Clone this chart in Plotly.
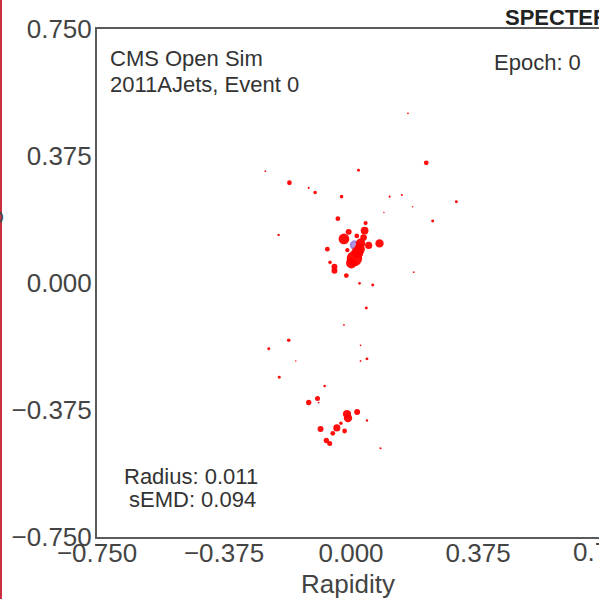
import math
import plotly.graph_objects as go

# Particle positions (rapidity, azimuth) and transverse momenta for event 0
rapidity = [0.168, 0.222, -0.253, 0.022, -0.182, -0.125, -0.106, -0.028, 0.114, 0.150,
            0.311, 0.182, 0.097, 0.241, -0.214, -0.039, 0.043, -0.007, 0.040, -0.021,
            0.017, 0.037, 0.084, 0.052, 0.028, 0.025, -0.011, -0.070, 0.010, 0.019,
            0.001, -0.062, -0.049, -0.049, -0.014, 0.025, 0.064, 0.185, 0.045, -0.021,
            -0.184, -0.243, 0.028, -0.163, 0.028, 0.047, -0.212, -0.078, -0.125, -0.099,
            -0.096, -0.012, -0.009, 0.018, 0.047, -0.030, -0.042, -0.054, -0.090, -0.019,
            -0.073, -0.063, 0.087]
azimuth = [0.501, 0.355, 0.330, 0.333, 0.296, 0.281, 0.267, 0.255, 0.255, 0.260,
           0.240, 0.225, 0.208, 0.183, 0.142, 0.190, 0.177, 0.151, 0.155, 0.130,
           0.139, 0.134, 0.117, 0.111, 0.117, 0.100, 0.097, 0.100, 0.072, 0.090,
           0.059, 0.061, 0.048, 0.036, 0.022, -0.001, -0.006, 0.032, -0.074, -0.124,
           -0.169, -0.194, -0.184, -0.230, -0.230, -0.224, -0.278, -0.304, -0.353, -0.341,
           -0.353, -0.387, -0.399, -0.381, -0.406, -0.414, -0.428, -0.444, -0.431, -0.437,
           -0.465, -0.474, -0.488]
pt = [1.1, 8.0, 1.1, 3.1, 8.0, 1.6, 4.5, 4.5, 1.6, 1.6,
      3.1, 0.8, 0.8, 3.1, 2.0, 8.0, 6.1, 12.5, 21.1, 40.5,
      8.0, 15.1, 24.5, 18.0, 32.0, 40.5, 6.1, 8.0, 84.5, 50.0,
      40.5, 4.5, 12.5, 12.5, 8.0, 2.6, 3.1, 1.1, 3.1, 1.1,
      4.5, 3.1, 1.1, 0.8, 1.1, 3.1, 3.1, 2.4, 10.1, 8.8,
      1.1, 24.5, 24.5, 12.5, 2.0, 4.5, 18.0, 8.0, 12.5, 8.0,
      10.1, 8.8, 1.6]

# SPECTER fit result
center = (0.010, 0.112)
radius = 0.011
semd = 0.094
epoch = 0

axis_ticks = [-0.75, -0.375, 0.0, 0.375]
x_range = [-0.75, 0.732]
y_range = [-0.75, 0.75]

FONT = "Liberation Sans, Arial, sans-serif"
TXT = "#333333"
TICK = "#444444"
AXIS = "#5a5a5a"

W, H = 599, 599
ML, MR, MT, MB = 97, 0, 29, 62
PW, PH = W - ML - MR, H - MT - MB


def px_x(p):
    return (p - ML) / PW


def px_y(p):
    return (H - MB - p) / PH


max_pt = max(pt)
sizes = [max(1.5, 15.5 * math.sqrt(p / max_pt)) for p in pt]

fig = go.Figure()
fig.add_trace(go.Scatter(
    x=rapidity, y=azimuth, mode="markers",
    marker=dict(size=sizes, color="#ff0000", opacity=0.95, line=dict(width=0)),
    hoverinfo="skip", showlegend=False,
))

shapes = [
    # fitted ring
    dict(type="circle", xref="x", yref="y", layer="below",
         x0=center[0] - radius, x1=center[0] + radius,
         y0=center[1] - radius, y1=center[1] + radius,
         fillcolor="rgba(150,115,215,0.75)",
         line=dict(color="rgba(150,115,215,0.75)", width=2)),
    # neighbouring panel border
    dict(type="line", xref="paper", yref="paper",
         x0=px_x(1), x1=px_x(1), y0=-0.3, y1=1.3,
         line=dict(color="#c8303f", width=2)),
]

annotations = [
    dict(text="CMS Open Sim", x=px_x(108), y=px_y(58), xanchor="left", yanchor="middle"),
    dict(text="2011AJets, Event 0", x=px_x(108), y=px_y(84), xanchor="left", yanchor="middle"),
    dict(text=f"Epoch: {epoch}", x=px_x(537), y=px_y(63), xanchor="center", yanchor="middle"),
    dict(text=f"Radius: {radius:.3f}", x=px_x(191), y=px_y(476), xanchor="center", yanchor="middle"),
    dict(text=f"sEMD: {semd:.3f}", x=px_x(192), y=px_y(499), xanchor="center", yanchor="middle"),
]
for a in annotations:
    a.update(xref="paper", yref="paper", showarrow=False, font=dict(family=FONT, size=22, color=TXT))

annotations += [
    dict(text="<b>SPECTER</b>", xref="paper", yref="paper", x=px_x(503), y=px_y(17),
         xanchor="left", yanchor="middle", showarrow=False,
         font=dict(family=FONT, size=22, color="#222222")),
    dict(text="Azimuthal Angle", xref="paper", yref="paper", x=px_x(6), y=0.5,
         xanchor="right", yanchor="middle", textangle=-90, showarrow=False,
         font=dict(family=FONT, size=26, color=TICK)),
    dict(text="0.750", xref="paper", yref="paper", x=(0.75 - x_range[0]) / (x_range[1] - x_range[0]),
         y=px_y(552), xanchor="center", yanchor="middle", showarrow=False,
         font=dict(family=FONT, size=26, color=TICK)),
]

fig.update_layout(
    width=W, height=H,
    margin=dict(l=ML, r=MR, t=MT, b=MB, pad=0),
    paper_bgcolor="white", plot_bgcolor="white",
    font=dict(family=FONT, size=26, color=TICK),
    shapes=shapes, annotations=annotations,
    xaxis=dict(range=x_range, tickvals=axis_ticks, tickformat=".3f",
               showgrid=False, zeroline=False, showline=True, linecolor=AXIS, linewidth=2,
               mirror=True, ticks="", ticklabelstandoff=-8,
               title=dict(text="Rapidity", font=dict(family=FONT, size=26, color=TICK), standoff=14)),
    yaxis=dict(range=y_range, tickvals=axis_ticks + [0.75], tickformat=".3f",
               showgrid=False, zeroline=False, showline=True, linecolor=AXIS, linewidth=2,
               mirror=False, ticks="", ticklabelstandoff=-2),
)

fig.write_html("out.html")
